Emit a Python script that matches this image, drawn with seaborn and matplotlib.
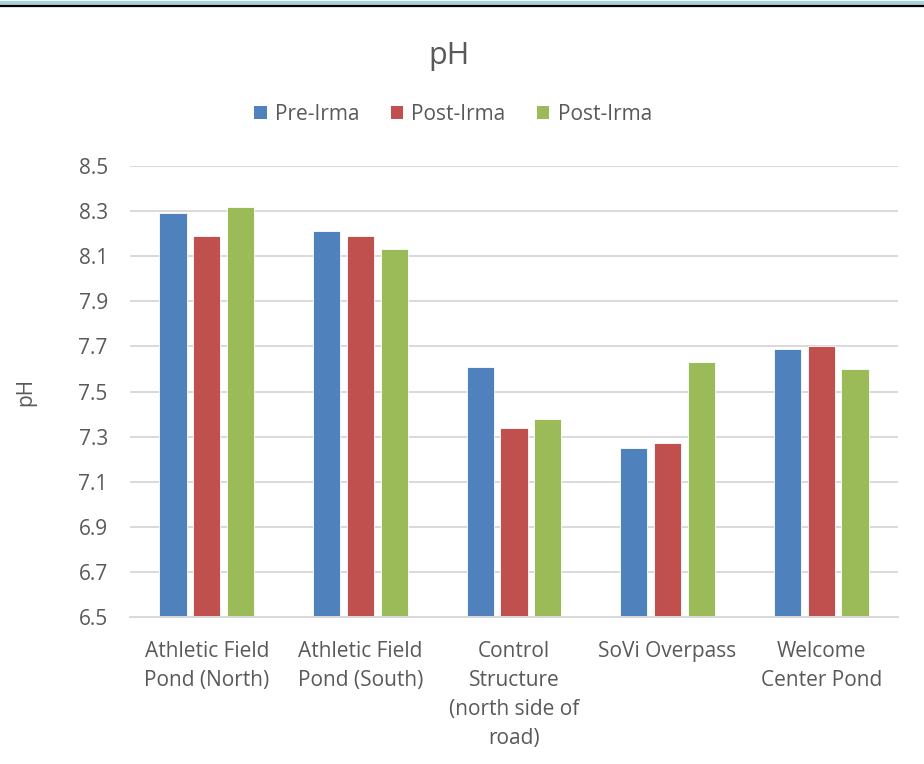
import pandas as pd
import matplotlib.pyplot as plt
import seaborn as sns
from matplotlib.patches import Patch
from matplotlib.lines import Line2D

# data
sites = ['Athletic Field Pond (North)', 'Athletic Field Pond (South)',
         'Control Structure (north side of road)', 'SoVi Overpass', 'Welcome Center Pond']
site_labels = ['Athletic Field\nPond (North)', 'Athletic Field\nPond (South)',
               'Control\nStructure\n(north side of\nroad)', 'SoVi Overpass', 'Welcome\nCenter Pond']
series_labels = ['Pre-Irma', 'Post-Irma', 'Post-Irma']
pre_irma = [8.29, 8.21, 7.61, 7.25, 7.69]
post_irma_1 = [8.19, 8.19, 7.34, 7.27, 7.70]
post_irma_2 = [8.32, 8.13, 7.38, 7.63, 7.60]
y_ticks = [6.5, 6.7, 6.9, 7.1, 7.3, 7.5, 7.7, 7.9, 8.1, 8.3, 8.5]

colors = ['#4F81BD', '#C0504D', '#9BBB59']
text_color = '#595959'
grid_color = '#D9D9D9'

# long format; hue keys must be unique, legend uses series_labels
keys = ['s0', 's1', 's2']
rows = []
for key, vals in zip(keys, [pre_irma, post_irma_1, post_irma_2]):
    for site, v in zip(sites, vals):
        rows.append({'site': site, 'series': key, 'pH': v})
df = pd.DataFrame(rows)

sns.set_style('white')
plt.rcParams['font.family'] = ['Open Sans', 'DejaVu Sans']

fig = plt.figure(figsize=(9.24, 7.64), dpi=100)
ax = fig.add_axes([130 / 924, 1 - 617 / 764, 768 / 924, 451 / 764])

sns.barplot(data=df, x='site', y='pH', hue='series', hue_order=keys,
            palette=colors, saturation=1, width=0.66, gap=0.2, ax=ax, legend=False,
            edgecolor='white', linewidth=0.6)

# bars start at the axis floor
for bar in ax.patches:
    h = bar.get_height()
    bar.set_y(6.5)
    bar.set_height(h - 6.5)

ax.set_ylim(6.5, 8.5)
ax.set_yticks(y_ticks)
ax.set_yticklabels([f'{t:.1f}' for t in y_ticks])
ax.set_xticks(range(len(sites)))
ax.set_xticklabels(site_labels, linespacing=1.5)
ax.set_xlim(-0.5, len(sites) - 0.5)

ax.tick_params(axis='both', length=0, labelsize=15, colors=text_color)
ax.tick_params(axis='y', pad=16)
ax.tick_params(axis='x', pad=17)
ax.yaxis.grid(True, color=grid_color, linewidth=1.4)
ax.set_axisbelow(True)
for s in ['top', 'right', 'left']:
    ax.spines[s].set_visible(False)
ax.spines['bottom'].set_color(grid_color)
ax.spines['bottom'].set_linewidth(1.4)

ax.set_xlabel('')
ax.set_ylabel('pH', fontsize=15, color=text_color, labelpad=30)

fig.text(449 / 924, 1 - 56 / 764, 'pH', ha='center', va='center',
         fontsize=22, color=text_color)

handles = [Patch(facecolor=c, edgecolor='none') for c in colors]
fig.legend(handles, series_labels, loc='center', bbox_to_anchor=(453 / 924, 1 - 114 / 764),
           ncol=3, frameon=False, fontsize=15, labelcolor=text_color,
           handlelength=0.6, handleheight=0.6, handletextpad=0.4, columnspacing=1.5)

# top border strip
fig.add_artist(Line2D([0, 1], [1 - 2.5 / 764, 1 - 2.5 / 764], color='#A5D5DA',
                      linewidth=3.8, transform=fig.transFigure))
fig.add_artist(Line2D([0, 1], [1 - 6 / 764, 1 - 6 / 764], color='black',
                      linewidth=1.6, transform=fig.transFigure))

fig.savefig('out.png', dpi=100, facecolor='white')
